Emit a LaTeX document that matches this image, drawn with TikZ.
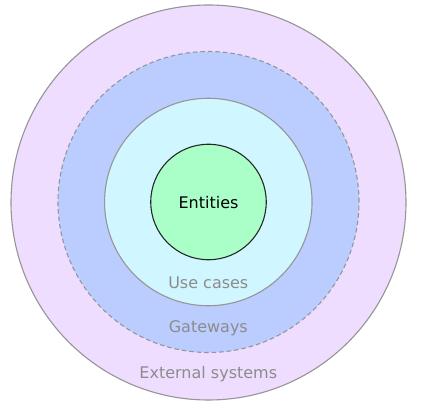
\documentclass[tikz,border=0pt]{standalone}
\usepackage{fontspec}
\setmainfont{DejaVu Sans}
\definecolor{extfill}{RGB}{238,221,255}
\definecolor{gatefill}{RGB}{187,204,255}
\definecolor{usefill}{RGB}{208,246,255}
\definecolor{entfill}{RGB}{170,255,200}
\definecolor{ringline}{RGB}{150,150,150}
\definecolor{labelgray}{RGB}{140,140,140}
\begin{document}
\begin{tikzpicture}[x=1pt,y=-1pt,
  ring/.style={circle,inner sep=0pt,draw=ringline,line width=1.1pt},
  lbl/.style={font=\fontsize{16}{18}\selectfont,text=labelgray}]
\useasboundingbox (0,0) rectangle (424,404);
\fill[white] (0,0) rectangle (424,404);
\node[ring,fill=extfill,minimum size=395pt] (ext) at (208.5,202.5) {};
\node[ring,fill=gatefill,dash pattern=on 4.5pt off 3pt,minimum size=301pt] (gate) at (208.5,202) {};
\node[ring,fill=usefill,minimum size=207.5pt] (use) at (208.3,202) {};
\node[ring,draw=black!85,fill=entfill,minimum size=115.5pt] (ent) at (208.5,202) {};
\node[font=\fontsize{16}{18}\selectfont] (entl) at (208.5,203) {Entities};
\node[lbl] (usel) at (208.3,282.7) {Use cases};
\node[lbl] (gatel) at (208.3,328) {Gateways};
\node[lbl] (extl) at (208.3,374) {External systems};
\end{tikzpicture}
\end{document}
